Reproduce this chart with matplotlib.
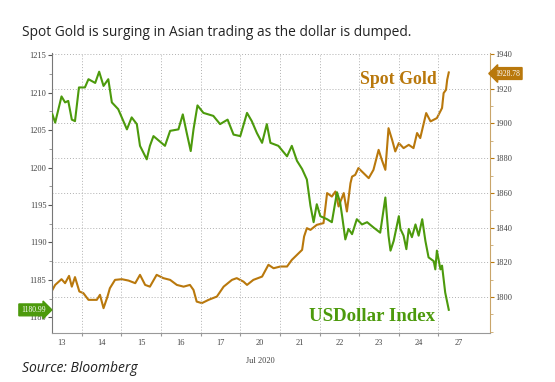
import matplotlib.pyplot as plt
import matplotlib.transforms as mtransforms
from matplotlib.ticker import MultipleLocator, FixedLocator, NullFormatter

# x positions in trading-day units (0 = start of Jul 13 session)
usd_x = [0.26, 0.33, 0.49, 0.58, 0.66, 0.75, 0.83, 0.93, 1.08, 1.17, 1.34, 1.44, 1.55, 1.67,
         1.76, 1.92, 2.01, 2.14, 2.26, 2.39, 2.47, 2.64, 2.72, 2.81, 3.10, 3.23, 3.44, 3.55,
         3.65, 3.75, 3.82, 3.92, 4.07, 4.32, 4.49, 4.68, 4.83, 5.00, 5.17, 5.29, 5.42, 5.55,
         5.67, 5.76, 5.96, 6.18, 6.30, 6.43, 6.56, 6.68, 6.77, 6.85, 6.93, 7.02, 7.19, 7.31,
         7.44, 7.52, 7.57, 7.65, 7.73, 7.82, 7.94, 8.07, 8.20, 8.36, 8.53, 8.66, 8.74, 8.79,
         8.87, 9.00, 9.04, 9.12, 9.19, 9.25, 9.33, 9.42, 9.50, 9.59, 9.67, 9.75, 9.88, 9.92,
         9.96, 10.05, 10.09, 10.17, 10.26]
usd_y = [1207.1, 1206.0, 1209.5, 1208.7, 1208.9, 1206.4, 1206.2, 1210.7, 1210.7, 1211.8, 1211.3,
         1212.8, 1210.9, 1211.8, 1208.7, 1207.8, 1206.7, 1205.1, 1206.7, 1205.8, 1202.9, 1201.1,
         1202.9, 1204.2, 1202.9, 1204.9, 1205.1, 1207.1, 1204.6, 1202.2, 1205.1, 1208.3, 1207.3,
         1206.9, 1205.8, 1206.4, 1204.4, 1204.2, 1207.3, 1206.2, 1204.6, 1203.3, 1205.8, 1203.3,
         1202.9, 1201.5, 1202.9, 1200.9, 1199.8, 1198.4, 1194.9, 1192.7, 1195.1, 1193.5, 1193.1,
         1192.7, 1196.7, 1195.3, 1193.5, 1190.4, 1191.8, 1191.1, 1193.1, 1192.4, 1192.7, 1192.0,
         1191.3, 1196.0, 1190.9, 1188.9, 1190.2, 1193.5, 1191.8, 1190.9, 1189.1, 1191.8, 1190.7,
         1192.4, 1190.9, 1193.1, 1190.2, 1188.0, 1187.5, 1186.4, 1188.9, 1186.4, 1186.9, 1183.3,
         1181.0]

gold_x = [0.26, 0.33, 0.49, 0.58, 0.68, 0.75, 0.83, 0.94, 1.04, 1.17, 1.38, 1.46, 1.55, 1.65,
          1.71, 1.84, 2.01, 2.18, 2.35, 2.47, 2.60, 2.72, 2.89, 3.06, 3.23, 3.40, 3.57, 3.73,
          3.82, 3.90, 4.03, 4.20, 4.41, 4.58, 4.79, 4.91, 5.08, 5.17, 5.33, 5.55, 5.71, 5.84,
          6.01, 6.18, 6.30, 6.43, 6.56, 6.61, 6.68, 6.77, 6.93, 7.10, 7.19, 7.31, 7.40, 7.48,
          7.61, 7.69, 7.78, 7.82, 7.90, 7.98, 8.11, 8.24, 8.36, 8.49, 8.57, 8.66, 8.74, 8.83,
          8.91, 9.00, 9.12, 9.25, 9.37, 9.46, 9.54, 9.69, 9.80, 9.96, 10.09, 10.13, 10.19, 10.22,
          10.26]
gold_y = [1804.1, 1807.0, 1810.3, 1808.0, 1812.2, 1806.0, 1811.5, 1803.2, 1802.3, 1798.4, 1798.4,
          1801.3, 1793.6, 1800.3, 1805.1, 1809.9, 1810.3, 1809.5, 1808.0, 1812.8, 1807.0, 1806.0,
          1812.8, 1810.9, 1809.9, 1807.0, 1806.0, 1807.0, 1804.1, 1797.4, 1796.5, 1798.4, 1800.3,
          1806.0, 1809.9, 1810.9, 1808.9, 1807.0, 1809.9, 1811.8, 1818.6, 1816.6, 1817.6, 1817.6,
          1821.4, 1824.3, 1827.2, 1834.9, 1839.7, 1838.7, 1841.6, 1842.6, 1859.9, 1857.9, 1860.8,
          1852.2, 1859.9, 1849.3, 1865.6, 1869.4, 1870.4, 1874.3, 1871.4, 1868.5, 1873.3, 1884.8,
          1879.1, 1873.3, 1897.3, 1890.6, 1883.9, 1888.7, 1885.8, 1887.7, 1885.8, 1894.5, 1891.6,
          1906.0, 1901.2, 1903.1, 1908.9, 1917.5, 1919.4, 1925.2, 1929.4]

day_labels = ['13', '14', '15', '16', '17', '20', '21', '22', '23', '24', '27']
usd_last = 1180.99
gold_last = 1928.78

green = '#4c9a0c'
gold = '#b9780c'
tick_font = 'Liberation Serif'

fig = plt.figure(figsize=(5.55, 3.82), dpi=100)
ax = fig.add_axes([52 / 555, 1 - 333 / 382, 438 / 555, 280 / 382])
ax2 = ax.twinx()

ax.plot(usd_x, usd_y, color=green, lw=1.5, zorder=3)
ax2.plot(gold_x, gold_y, color=gold, lw=1.5, zorder=3)

ax.set_xlim(0.25, 11.3)
ax.set_ylim(1177.9, 1215.3)
ax2.set_ylim(1779.3, 1940.6)

# left axis ticks
ax.yaxis.set_major_locator(MultipleLocator(5))
ax.yaxis.set_minor_locator(MultipleLocator(2.5))
ax.tick_params(axis='y', which='major', length=3, width=0.8, color='#555555',
               labelsize=6, labelcolor='#444444', pad=1)
ax.tick_params(axis='y', which='minor', length=2, width=0.6, color='#888888')

# right axis ticks
ax2.yaxis.set_major_locator(FixedLocator(range(1800, 1941, 20)))
ax2.yaxis.set_minor_locator(MultipleLocator(10))
ax2.tick_params(axis='y', which='major', length=3, width=0.8, color=gold,
                labelsize=6, labelcolor='#444444', pad=1)
ax2.tick_params(axis='y', which='minor', length=2, width=0.6, color='#c9a56a')

# x axis: boundaries as major, day labels at centers
ax.xaxis.set_major_locator(FixedLocator(range(1, 11)))
ax.xaxis.set_major_formatter(NullFormatter())
ax.xaxis.set_minor_locator(FixedLocator([i + 0.5 for i in range(len(day_labels))]))
ax.set_xticklabels(day_labels, minor=True)
ax.tick_params(axis='x', which='major', length=2, color='#999999')
ax.tick_params(axis='x', which='minor', length=0, labelsize=6, labelcolor='#444444', pad=4)
ax.text(5.5, -0.085, 'Jul 2020', transform=mtransforms.blended_transform_factory(ax.transData, ax.transAxes),
        ha='center', va='top', fontsize=6, color='#444444', family=tick_font)

for lab in ax.get_yticklabels() + ax2.get_yticklabels() + ax.get_xticklabels(minor=True):
    lab.set_family(tick_font)

# grid
for v in range(1, 11):
    ax.axvline(v, color='#b0b0b0', lw=0.7, ls=(0, (1, 2)), zorder=1)
ax2.grid(axis='y', which='major', color='#b0b0b0', lw=0.7, ls=(0, (1, 2)), zorder=1)

for a in (ax, ax2):
    a.spines['top'].set_visible(False)
    a.set_facecolor('none')
ax.spines['left'].set_color('#777777')
ax.spines['bottom'].set_color('#999999')
ax.spines['right'].set_visible(False)
ax2.spines['left'].set_visible(False)
ax2.spines['bottom'].set_visible(False)
ax2.spines['right'].set_color('#c9a56a')
ax.set_zorder(ax2.get_zorder() + 1)

# series labels
ax2.text(0.79, 0.905, 'Spot Gold', transform=ax2.transAxes, ha='center', va='center',
         fontsize=12.8, fontweight='bold', color=gold, family=tick_font)
ax.text(0.73, 0.06, 'USDollar Index', transform=ax.transAxes, ha='center', va='center',
        fontsize=13.6, fontweight='bold', color=green, family=tick_font)

# last value boxes
tl = mtransforms.blended_transform_factory(ax.transAxes, ax.transData)
ax.text(-0.015, usd_last, f'{usd_last:.2f}', transform=tl, ha='right', va='center',
        fontsize=5.5, color='white', family=tick_font, clip_on=False,
        bbox=dict(boxstyle='rarrow,pad=0.25', fc=green, ec=green))
tr = mtransforms.blended_transform_factory(ax2.transAxes, ax2.transData)
ax2.text(1.012, gold_last, f'{gold_last:.2f}', transform=tr, ha='left', va='center',
         fontsize=5.5, color='white', family=tick_font, clip_on=False,
         bbox=dict(boxstyle='larrow,pad=0.25', fc=gold, ec=gold))

fig.text(22 / 555, 1 - 32 / 382, 'Spot Gold is surging in Asian trading as the dollar is dumped.',
         fontsize=9.9, family='Open Sans', color='#222222', va='center')
fig.text(22 / 555, 1 - 368 / 382, 'Source: Bloomberg', fontsize=10, family='Open Sans',
         style='italic', color='#222222', va='center')

fig.savefig('out.png', dpi=100, facecolor='white')
